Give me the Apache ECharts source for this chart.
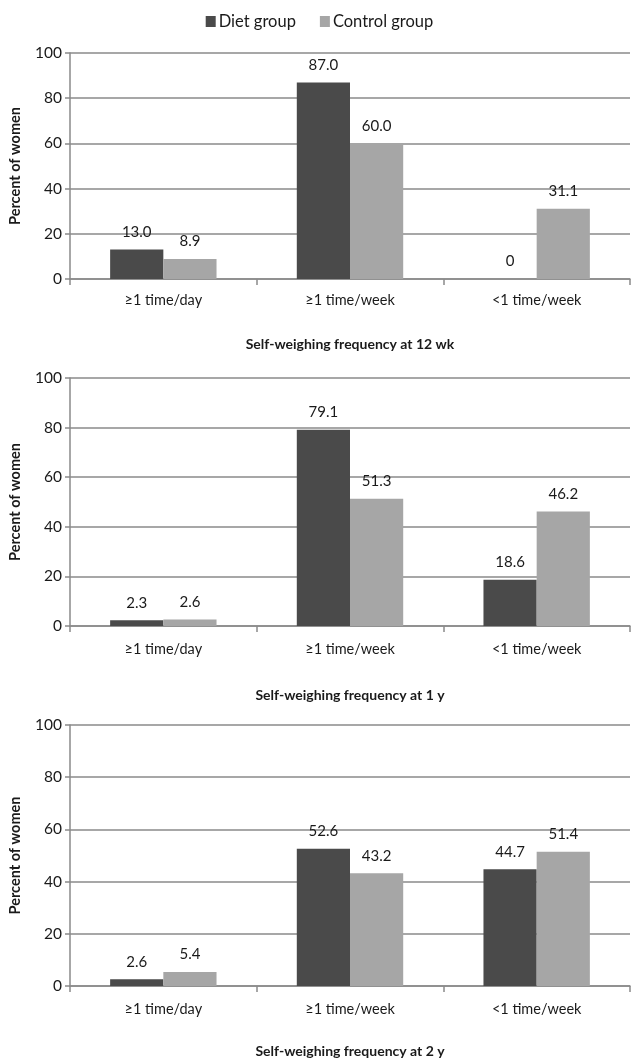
<!DOCTYPE html>
<html><head><meta charset="utf-8">
<script src="https://cdn.jsdelivr.net/npm/echarts@6/dist/echarts.min.js"></script>
<style>html,body{margin:0;padding:0;background:#fff}#c{width:639px;height:1059px}</style>
</head><body><div id="c"></div>
<script>
const categories = ['≥1 time/day', '≥1 time/week', '<1 time/week'];
const seriesNames = ['Diet group', 'Control group'];
const panelTitles = ['Self-weighing frequency at 12 wk', 'Self-weighing frequency at 1 y', 'Self-weighing frequency at 2 y'];
const diet12wk = [13.0, 87.0, 0];
const control12wk = [8.9, 60.0, 31.1];
const diet1y = [2.3, 79.1, 18.6];
const control1y = [2.6, 51.3, 46.2];
const diet2y = [2.6, 52.6, 44.7];
const control2y = [5.4, 43.2, 51.4];
const yTicks = [0, 20, 40, 60, 80, 100];

const panels = [[diet12wk, control12wk], [diet1y, control1y], [diet2y, control2y]];
const gridPos = [{top: 53, height: 226}, {top: 378, height: 248}, {top: 725, height: 267}];
const nameGaps = [58, 62, 58];
const labelMargins = [14, 16, 16];
const colors = ['#4a4a4a', '#a6a6a6'];
const FONT = 'Lato';
const TXT = '#1a1a1a';

const grids = [], xAxes = [], yAxes = [], series = [];
panels.forEach((p, i) => {
  grids.push({left: 70, right: 9, top: gridPos[i].top, height: gridPos[i].height});
  xAxes.push({
    type: 'category', gridIndex: i, data: categories,
    axisLine: {lineStyle: {color: '#8a8a8a', width: 1.5}},
    axisTick: {show: true, length: 6, lineStyle: {color: '#8a8a8a', width: 1.5}},
    axisLabel: {color: TXT, fontFamily: FONT, fontSize: 14.5, margin: labelMargins[i]},
    name: panelTitles[i], nameLocation: 'middle', nameGap: nameGaps[i],
    nameTextStyle: {color: TXT, fontFamily: FONT, fontSize: 14, fontWeight: 'bold'}
  });
  yAxes.push({
    type: 'value', gridIndex: i, min: 0, max: 100, interval: 20,
    axisLine: {show: true, lineStyle: {color: '#8a8a8a', width: 1.5}},
    axisTick: {show: true, length: 5, lineStyle: {color: '#8a8a8a', width: 1.5}},
    splitLine: {lineStyle: {color: '#8a8a8a', width: 1.5}},
    axisLabel: {color: TXT, fontFamily: FONT, fontSize: 15.5, margin: 8,
      formatter: v => yTicks.includes(v) ? String(v) : ''},
    name: 'Percent of women', nameLocation: 'middle', nameGap: 47, nameRotate: 90,
    nameTextStyle: {color: TXT, fontFamily: FONT, fontSize: 14.5, fontWeight: 'bold'}
  });
  p.forEach((vals, s) => {
    series.push({
      name: seriesNames[s], type: 'bar', xAxisIndex: i, yAxisIndex: i,
      data: vals, barGap: '0%', barCategoryGap: '43%',
      itemStyle: {color: colors[s]},
      label: {show: true, position: 'top', distance: 10, color: TXT, fontFamily: FONT, fontSize: 15,
        formatter: d => d.value === 0 ? '0' : d.value.toFixed(1)}
    });
  });
});

const chart = echarts.init(document.getElementById('c'));
chart.setOption({
  animation: false,
  backgroundColor: '#fff',
  legend: {
    top: 8, left: 'center', data: seriesNames, itemWidth: 10, itemHeight: 11, itemGap: 24,
    textStyle: {color: TXT, fontFamily: FONT, fontSize: 16.5, padding: [0, 0, 0, -2]}, icon: 'rect'
  },
  grid: grids, xAxis: xAxes, yAxis: yAxes, series: series
});
</script></body></html>
